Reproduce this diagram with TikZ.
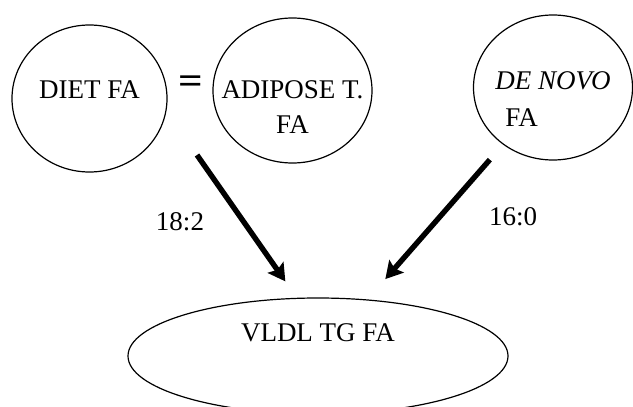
\documentclass[tikz,border=0pt]{standalone}
\usepackage{fontspec}
\setmainfont{Liberation Serif}
\usetikzlibrary{shapes.geometric,arrows.meta}
\begin{document}
\begin{tikzpicture}[x=1pt, y=-1pt,
    pool/.style={draw, ellipse, line width=1.2pt, inner sep=0pt},
    tag/.style={font=\fontsize{27}{35}\selectfont},
    flow/.style={line width=5.4pt, -{Stealth[length=17pt, width=19pt, inset=3pt]}}]
    \useasboundingbox (0,0) rectangle (633,407);
    \clip (0,0) rectangle (633,407);

    % ===== FA sources (top row) =====
    \node[pool, minimum width=155pt, minimum height=147pt,
        label={[tag, yshift=9pt]center:DIET FA}] (diet) at (89.5,98.5) {};
    \node[tag] (eq) at (190.5,85) {\scalebox{1.6}[1.4]{\bfseries =}};
    \node[pool, minimum width=159pt, minimum height=145pt,
        label={[tag, align=center, yshift=-16.5pt]center:{ADIPOSE T.\\FA}}] (adipose) at (292.5,90.5) {};
    \node[pool, minimum width=159pt, minimum height=145pt,
        label={[tag, align=left, yshift=-12pt]center:{\textit{DE NOVO}\\[2pt]\hspace*{10pt}FA}}] (denovo) at (553,87.5) {};

    % ===== VLDL pool (bottom, runs off the edge) =====
    \node[pool, minimum width=380pt, minimum height=116pt,
        label={[tag, yshift=23pt]center:VLDL TG FA}] (vldl) at (318,356) {};

    % Flux arrows into VLDL
    \coordinate (mix) at (197,155);
    \draw[flow, shorten >=20pt] (mix) -- (vldl.110);
    \draw[flow, shorten <=20pt, shorten >=27pt] (denovo) -- (vldl);

    % Dominant fatty acid on each route
    \node[tag] (lino) at (180,222) {18:2};
    \node[tag] (palm) at (513,217) {16:0};
\end{tikzpicture}
\end{document}
